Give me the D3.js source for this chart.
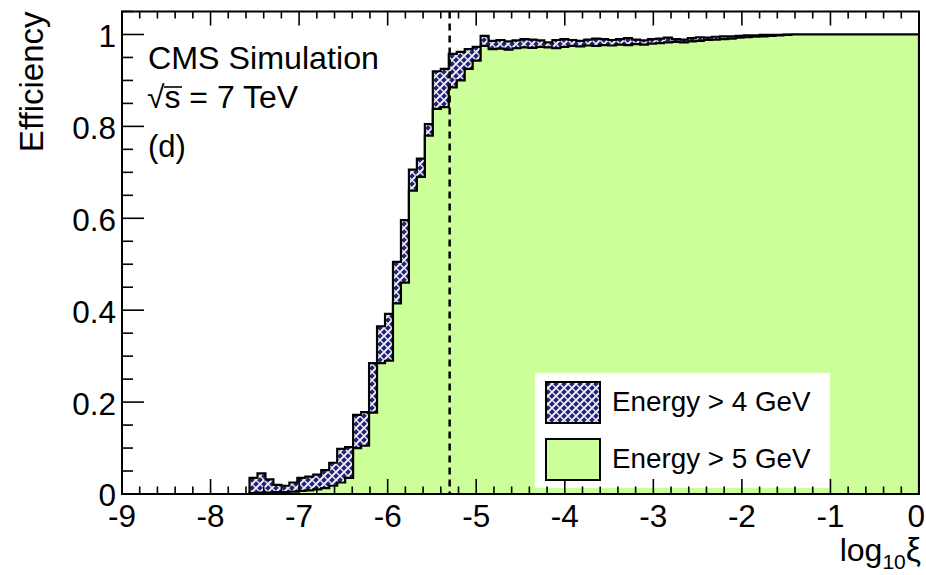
<!DOCTYPE html>
<html>
<head>
<meta charset="utf-8">
<script src="https://cdn.jsdelivr.net/npm/d3@7"></script>
<style>
  html, body { margin: 0; padding: 0; background: #fff; }
  svg { display: block; font-family: "Liberation Sans", Arial, Helvetica, sans-serif; }
</style>
</head>
<body>
<svg id="chart" width="926" height="575"></svg>
<script>
// Histogram binning: 100 bins over log10(xi) in [-9, 0]
const nBins = 100;
const xLow = -9;
const xHigh = 0;

// Efficiency per bin, photon energy threshold 4 GeV
const effE4 = [
  0,0,0,0,0,0,0,0,0,0,0,0,0,0,0,0,
  0.035,0.045,0.032,0.020,0.018,0.025,0.035,0.038,0.042,0.052,
  0.068,0.098,0.102,0.172,0.178,0.285,0.365,0.392,0.505,0.596,
  0.706,0.730,0.805,0.920,0.925,0.958,0.962,0.968,0.973,0.997,
  0.986,0.988,0.985,0.987,0.990,0.989,0.987,0.983,0.988,0.990,
  0.988,0.986,0.989,0.991,0.990,0.988,0.990,0.992,0.989,0.987,
  0.990,0.991,0.993,0.990,0.989,0.992,0.994,0.993,0.995,0.996,
  0.996,0.997,0.998,0.998,0.999,0.999,0.999,
  1,1,1,1,1,1,1,1,1,1,1,1,1,1,1,1,1
];

// Efficiency per bin, photon energy threshold 5 GeV
const effE5 = [
  0,0,0,0,0,0,0,0,0,0,0,0,0,0,0,0,
  0.002,0.003,0.003,0.004,0.004,0.005,0.007,0.008,0.010,0.013,
  0.018,0.025,0.035,0.100,0.105,0.177,0.285,0.290,0.415,0.460,
  0.660,0.690,0.780,0.838,0.842,0.885,0.900,0.925,0.943,0.975,
  0.968,0.969,0.967,0.970,0.972,0.971,0.973,0.972,0.970,0.973,
  0.975,0.974,0.976,0.975,0.977,0.976,0.978,0.977,0.979,0.978,
  0.980,0.981,0.983,0.984,0.983,0.985,0.986,0.988,0.989,0.990,
  0.991,0.993,0.994,0.995,0.996,0.997,0.998,0.999,
  1,1,1,1,1,1,1,1,1,1,1,1,1,1,1,1
];

const xTicks = [-9, -8, -7, -6, -5, -4, -3, -2, -1, 0];
const xTickLabels = ["-9", "-8", "-7", "-6", "-5", "-4", "-3", "-2", "-1", "0"];
const yTicks = [0, 0.2, 0.4, 0.6, 0.8, 1];
const yTickLabels = ["0", "0.2", "0.4", "0.6", "0.8", "1"];
const cutValue = -5.3;   // log10(xi) reference cut
const legendLabels = ["Energy > 4 GeV", "Energy > 5 GeV"];

const W = 926;
const frame = { left: 122, right: 919, top: 11.5, bottom: 494 };
const green = "#ccff99";
const navy = "#22227a";

const svg = d3.select("#chart");

const x = d3.scaleLinear().domain([xLow, xHigh]).range([frame.left, frame.right]);
const y = d3.scaleLinear().domain([0, 1.05]).range([frame.bottom, frame.top]);

// Woven hatch fill used for the 4 GeV histogram
const defs = svg.append("defs");
const pat = defs.append("pattern")
  .attr("id", "weave").attr("patternUnits", "userSpaceOnUse")
  .attr("width", 8).attr("height", 8);
pat.append("rect").attr("width", 8).attr("height", 8).attr("fill", navy);
pat.append("path").attr("d", "M-1,9 L9,-1 M-1,1 L1,-1 M7,9 L9,7")
  .attr("stroke", "#fff").attr("stroke-width", 1.8);
pat.append("path").attr("d", "M-1,-1 L9,9 M-1,7 L1,9 M7,-1 L9,1")
  .attr("stroke", "#eaeaf7").attr("stroke-width", 1.4);

defs.append("clipPath").attr("id", "plotClip")
  .append("rect")
  .attr("x", frame.left).attr("y", frame.top)
  .attr("width", frame.right - frame.left).attr("height", frame.bottom - frame.top);

const binWidth = (xHigh - xLow) / nBins;
function histPoints(vals) {
  const pts = vals.map((v, i) => [xLow + i * binWidth, v]);
  pts.push([xHigh, vals[vals.length - 1]]);
  return pts;
}

const area = d3.area()
  .curve(d3.curveStepAfter)
  .x(d => x(d[0]))
  .y0(y(0))
  .y1(d => y(d[1]));

const plot = svg.append("g").attr("clip-path", "url(#plotClip)");

plot.append("path")
  .datum(histPoints(effE4))
  .attr("d", area)
  .attr("fill", "url(#weave)")
  .attr("stroke", "#000")
  .attr("stroke-width", 2.2)
  .attr("stroke-linejoin", "miter");

plot.append("path")
  .datum(histPoints(effE5))
  .attr("d", area)
  .attr("fill", green)
  .attr("stroke", "#000")
  .attr("stroke-width", 2.2)
  .attr("stroke-linejoin", "miter");

// Dashed cut line
svg.append("line")
  .attr("x1", x(cutValue)).attr("x2", x(cutValue))
  .attr("y1", frame.top).attr("y2", frame.bottom)
  .attr("stroke", "#000").attr("stroke-width", 2.5)
  .attr("stroke-dasharray", "7,5");

// Legend
const lg = svg.append("g");
lg.append("rect")
  .attr("x", 535).attr("y", 373).attr("width", 295).attr("height", 115)
  .attr("fill", "#fff");
const swatches = [{ fill: "url(#weave)", y: 382 }, { fill: green, y: 439 }];
swatches.forEach((s, i) => {
  lg.append("rect")
    .attr("x", 546).attr("y", s.y).attr("width", 54).attr("height", 41)
    .attr("fill", s.fill).attr("stroke", "#000").attr("stroke-width", 2);
  lg.append("text")
    .attr("x", 612).attr("y", s.y + 29)
    .attr("font-size", 27.8).attr("fill", "#000")
    .text(legendLabels[i]);
});

// Frame
svg.append("rect")
  .attr("x", frame.left).attr("y", frame.top)
  .attr("width", frame.right - frame.left).attr("height", frame.bottom - frame.top)
  .attr("fill", "none").attr("stroke", "#000").attr("stroke-width", 2);

// X axis ticks (bottom and top)
const xMinor = d3.range(0, 46).map(k => xLow + k * 0.2);
const tg = svg.append("g").attr("stroke", "#000").attr("stroke-width", 1.6);
xMinor.forEach(v => {
  const major = Math.abs(v - Math.round(v)) < 1e-6;
  const len = major ? 15 : 7.5;
  tg.append("line").attr("x1", x(v)).attr("x2", x(v))
    .attr("y1", frame.bottom).attr("y2", frame.bottom - len);
  tg.append("line").attr("x1", x(v)).attr("x2", x(v))
    .attr("y1", frame.top).attr("y2", frame.top + (major ? 14 : 7));
});

// Y axis ticks
const yMinor = d3.range(0, 22).map(k => k * 0.05).filter(v => v <= 1.05);
yMinor.forEach(v => {
  const major = Math.abs(v * 5 - Math.round(v * 5)) < 1e-6;
  const len = major ? 22 : 11;
  tg.append("line").attr("x1", frame.left).attr("x2", frame.left + len)
    .attr("y1", y(v)).attr("y2", y(v));
});

// Tick labels (the last x label is kept inside the page edge)
const labelSize = 31.5;
xTicks.forEach((v, i) => {
  const last = i === xTicks.length - 1;
  svg.append("text")
    .attr("x", last ? W - 1 : x(v)).attr("y", 527)
    .attr("text-anchor", last ? "end" : "middle").attr("font-size", labelSize)
    .text(xTickLabels[i]);
});
yTicks.forEach((v, i) => {
  svg.append("text")
    .attr("x", 116).attr("y", y(v) + (v === 0 ? 11.5 : 12.5))
    .attr("text-anchor", "end").attr("font-size", labelSize)
    .text(yTickLabels[i]);
});

// Axis titles
svg.append("text")
  .attr("transform", `translate(43,${frame.top}) rotate(-90)`)
  .attr("text-anchor", "end").attr("font-size", 33)
  .text("Efficiency");

const xt = svg.append("text")
  .attr("x", 921).attr("y", 561)
  .attr("text-anchor", "end").attr("font-size", 32);
xt.append("tspan").text("log");
xt.append("tspan").attr("font-size", 21).attr("dy", 8).text("10");
xt.append("tspan").attr("dy", -8).attr("font-size", 34).text("ξ");

// Annotations
svg.append("text").attr("x", 148).attr("y", 69).attr("font-size", 30.5)
  .attr("textLength", 231).attr("lengthAdjust", "spacingAndGlyphs")
  .text("CMS Simulation");
const rs = svg.append("text").attr("x", 147).attr("y", 108).attr("font-size", 31)
  .attr("textLength", 151).attr("lengthAdjust", "spacingAndGlyphs");
rs.append("tspan").text("√");
rs.append("tspan").text("s = 7 TeV");
svg.append("line")
  .attr("x1", 164).attr("x2", 182).attr("y1", 87).attr("y2", 87)
  .attr("stroke", "#000").attr("stroke-width", 1.6);
svg.append("text").attr("x", 148).attr("y", 157).attr("font-size", 31)
  .text("(d)");
</script>
</body>
</html>
